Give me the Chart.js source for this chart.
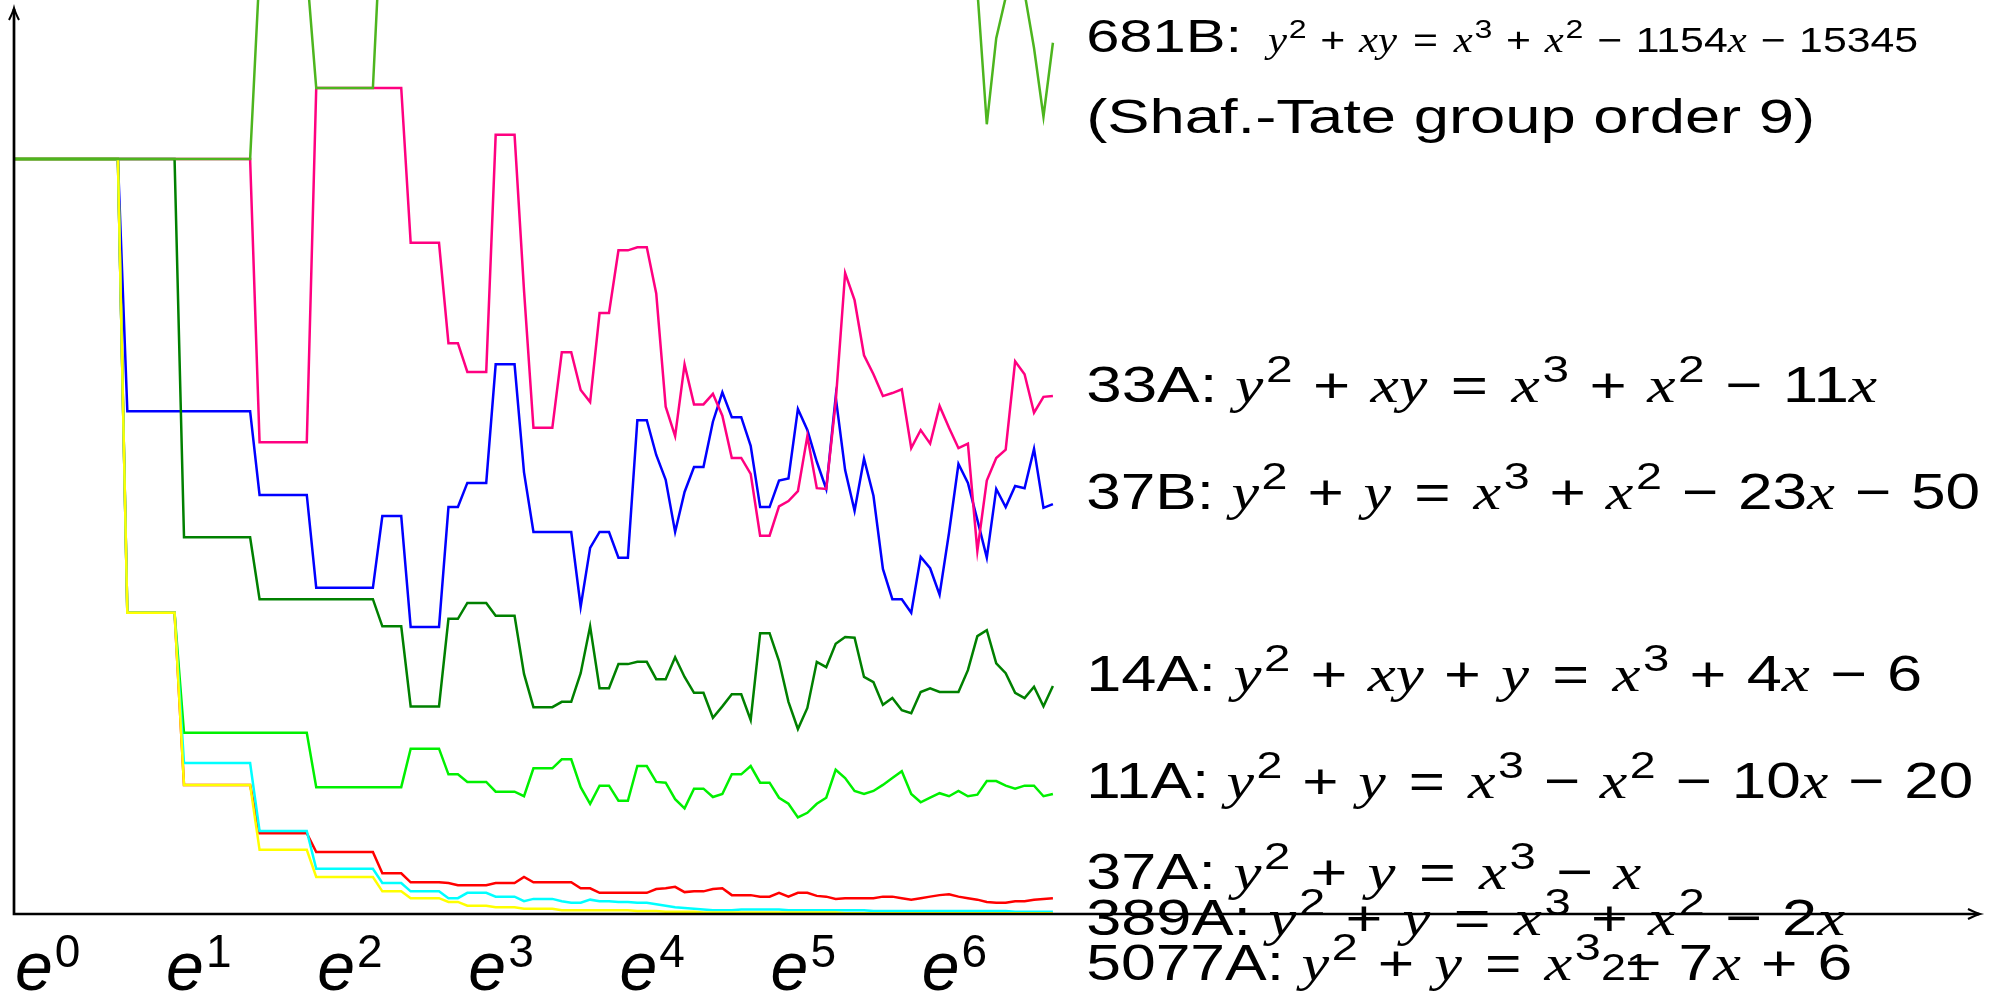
<!DOCTYPE html>
<html>
<head>
<meta charset="utf-8">
<script src="https://cdn.jsdelivr.net/npm/chart.js@4.4.0/dist/chart.umd.min.js"></script>
<style>
  html, body { margin: 0; padding: 0; background: #fff; }
  canvas { display: block; }
</style>
</head>
<body>
<canvas id="bsd" width="1996" height="994"></canvas>
<script>
// one sample every 1/16 of a unit of log x, from e^0 up to e^6.875
const STEP = 1 / 16;
const X_MAX = 13.01;     // the x axis runs on past the data to its arrow
const Y_MAX = 1.2106;    // top edge of the picture
const AXIS_TOP = 1.2;    // tip of the y arrow
const tickPowers = [0, 1, 2, 3, 4, 5, 6];

// values, 16 samples per line (one power of e)
const c681B = [
  1, 1, 1, 1, 1, 1, 1, 1, 1, 1, 1, 1, 1, 1, 1, 1,
  1, 1, 1, 1, 1, 1, 1, 1, 1, 1, 1.25, 1.25, 1.25, 1.25, 1.25, 1.25,
  1.094, 1.094, 1.094, 1.094, 1.094, 1.094, 1.094, 1.35, 1.35, 1.35, 1.42, 1.42, 1.42, 1.42, 1.55, 1.55,
  1.60, 1.60, 1.60, 1.72, 1.72, 1.72, 1.65, 1.58, 1.58, 1.58, 1.62, 1.62, 1.55, 1.50, 1.56, 1.56,
  1.60, 1.60, 1.66, 1.66, 1.58, 1.52, 1.48, 1.55, 1.50, 1.50, 1.45, 1.42, 1.40, 1.40, 1.38, 1.33,
  1.33, 1.36, 1.40, 1.45, 1.42, 1.38, 1.37, 1.44, 1.52, 1.48, 1.42, 1.39, 1.36, 1.35, 1.33, 1.30,
  1.28, 1.31, 1.34, 1.30, 1.27, 1.25, 1.224, 1.046, 1.160, 1.214, 1.30, 1.22, 1.147, 1.056, 1.154
];
const c33A = [
  1, 1, 1, 1, 1, 1, 1, 1, 1, 1, 1, 1, 1, 1, 1, 1,
  1, 1, 1, 1, 1, 1, 1, 1, 1, 1, 0.625, 0.625, 0.625, 0.625, 0.625, 0.625,
  1.094, 1.094, 1.094, 1.094, 1.094, 1.094, 1.094, 1.094, 1.094, 1.094, 0.889, 0.889, 0.889, 0.889, 0.756, 0.756,
  0.718, 0.718, 0.718, 1.032, 1.032, 1.032, 0.826, 0.644, 0.644, 0.644, 0.744, 0.744, 0.694, 0.678, 0.796, 0.796,
  0.879, 0.879, 0.883, 0.883, 0.822, 0.672, 0.633, 0.728, 0.675, 0.675, 0.689, 0.660, 0.604, 0.604, 0.583, 0.501,
  0.501, 0.540, 0.547, 0.560, 0.633, 0.564, 0.563, 0.678, 0.849, 0.813, 0.740, 0.715, 0.686, 0.690, 0.695, 0.617,
  0.641, 0.623, 0.673, 0.644, 0.617, 0.623, 0.481, 0.574, 0.604, 0.615, 0.732, 0.715, 0.664, 0.685, 0.686
];
const c37B = [
  1, 1, 1, 1, 1, 1, 1, 1, 1, 1, 1, 1, 0.666, 0.666, 0.666, 0.666,
  0.666, 0.666, 0.666, 0.666, 0.666, 0.666, 0.666, 0.666, 0.666, 0.666, 0.555, 0.555, 0.555, 0.555, 0.555, 0.555,
  0.432, 0.432, 0.432, 0.432, 0.432, 0.432, 0.432, 0.527, 0.527, 0.527, 0.380, 0.380, 0.380, 0.380, 0.539, 0.539,
  0.571, 0.571, 0.571, 0.728, 0.728, 0.728, 0.585, 0.506, 0.506, 0.506, 0.506, 0.506, 0.407, 0.485, 0.506, 0.506,
  0.472, 0.472, 0.654, 0.654, 0.608, 0.575, 0.506, 0.559, 0.592, 0.592, 0.652, 0.691, 0.658, 0.658, 0.620, 0.539,
  0.539, 0.574, 0.577, 0.669, 0.641, 0.599, 0.563, 0.685, 0.588, 0.534, 0.603, 0.554, 0.457, 0.417, 0.417, 0.399,
  0.473, 0.458, 0.423, 0.505, 0.596, 0.571, 0.522, 0.472, 0.563, 0.539, 0.567, 0.564, 0.616, 0.538, 0.543
];
const c14A = [
  1, 1, 1, 1, 1, 1, 1, 1, 1, 1, 1, 1, 1, 1, 1, 1,
  1, 1, 0.499, 0.499, 0.499, 0.499, 0.499, 0.499, 0.499, 0.499, 0.417, 0.417, 0.417, 0.417, 0.417, 0.417,
  0.417, 0.417, 0.417, 0.417, 0.417, 0.417, 0.417, 0.381, 0.381, 0.381, 0.275, 0.275, 0.275, 0.275, 0.391, 0.391,
  0.412, 0.412, 0.412, 0.395, 0.395, 0.395, 0.318, 0.274, 0.274, 0.274, 0.281, 0.281, 0.319, 0.381, 0.299, 0.299,
  0.331, 0.331, 0.334, 0.334, 0.311, 0.311, 0.340, 0.314, 0.293, 0.293, 0.260, 0.275, 0.291, 0.291, 0.257, 0.372,
  0.372, 0.335, 0.281, 0.245, 0.273, 0.334, 0.327, 0.358, 0.367, 0.366, 0.314, 0.307, 0.277, 0.286, 0.270, 0.266,
  0.294, 0.299, 0.294, 0.294, 0.294, 0.323, 0.368, 0.376, 0.332, 0.319, 0.293, 0.286, 0.301, 0.275, 0.302
];
const c11A = [
  1, 1, 1, 1, 1, 1, 1, 1, 1, 1, 1, 1, 0.399, 0.399, 0.399, 0.399,
  0.399, 0.399, 0.240, 0.240, 0.240, 0.240, 0.240, 0.240, 0.240, 0.240, 0.240, 0.240, 0.240, 0.240, 0.240, 0.240,
  0.168, 0.168, 0.168, 0.168, 0.168, 0.168, 0.168, 0.168, 0.168, 0.168, 0.219, 0.219, 0.219, 0.219, 0.185, 0.185,
  0.175, 0.175, 0.175, 0.162, 0.162, 0.162, 0.156, 0.193, 0.193, 0.193, 0.205, 0.205, 0.168, 0.146, 0.170, 0.170,
  0.150, 0.150, 0.196, 0.196, 0.175, 0.174, 0.152, 0.140, 0.166, 0.166, 0.155, 0.159, 0.185, 0.185, 0.196, 0.174,
  0.174, 0.154, 0.146, 0.128, 0.134, 0.146, 0.154, 0.191, 0.180, 0.163, 0.159, 0.163, 0.171, 0.180, 0.189, 0.159,
  0.148, 0.154, 0.160, 0.156, 0.163, 0.156, 0.158, 0.176, 0.176, 0.170, 0.166, 0.170, 0.170, 0.156, 0.159
];
const c37A = [
  1, 1, 1, 1, 1, 1, 1, 1, 1, 1, 1, 1, 0.399, 0.399, 0.399, 0.399,
  0.399, 0.399, 0.171, 0.171, 0.171, 0.171, 0.171, 0.171, 0.171, 0.171, 0.107, 0.107, 0.107, 0.107, 0.107, 0.107,
  0.082, 0.082, 0.082, 0.082, 0.082, 0.082, 0.082, 0.054, 0.054, 0.054, 0.042, 0.042, 0.042, 0.042, 0.041, 0.038,
  0.038, 0.038, 0.038, 0.041, 0.041, 0.041, 0.049, 0.042, 0.042, 0.042, 0.042, 0.042, 0.034, 0.034, 0.028, 0.028,
  0.028, 0.028, 0.028, 0.028, 0.033, 0.034, 0.036, 0.029, 0.030, 0.030, 0.033, 0.034, 0.025, 0.025, 0.025, 0.023,
  0.023, 0.028, 0.023, 0.028, 0.028, 0.024, 0.023, 0.020, 0.021, 0.021, 0.021, 0.021, 0.023, 0.023, 0.021, 0.019,
  0.021, 0.023, 0.025, 0.026, 0.023, 0.021, 0.019, 0.016, 0.015, 0.015, 0.017, 0.017, 0.019, 0.020, 0.021
];
const c389A = [
  1, 1, 1, 1, 1, 1, 1, 1, 1, 1, 1, 1, 0.399, 0.399, 0.399, 0.399,
  0.399, 0.399, 0.200, 0.200, 0.200, 0.200, 0.200, 0.200, 0.200, 0.200, 0.110, 0.110, 0.110, 0.110, 0.110, 0.110,
  0.060, 0.060, 0.060, 0.060, 0.060, 0.060, 0.060, 0.041, 0.041, 0.041, 0.030, 0.030, 0.030, 0.030, 0.021, 0.021,
  0.028, 0.028, 0.028, 0.023, 0.023, 0.023, 0.017, 0.020, 0.020, 0.020, 0.017, 0.015, 0.015, 0.019, 0.017, 0.017,
  0.016, 0.016, 0.015, 0.015, 0.013, 0.011, 0.009, 0.008, 0.007, 0.006, 0.005, 0.005, 0.005, 0.006, 0.006, 0.006,
  0.006, 0.006, 0.005, 0.005, 0.005, 0.005, 0.005, 0.005, 0.005, 0.005, 0.005, 0.004, 0.004, 0.004, 0.004, 0.004,
  0.004, 0.004, 0.004, 0.004, 0.004, 0.004, 0.004, 0.004, 0.004, 0.004, 0.003, 0.003, 0.003, 0.003, 0.003
];
const c5077A = [
  1, 1, 1, 1, 1, 1, 1, 1, 1, 1, 1, 1, 0.399, 0.399, 0.399, 0.399,
  0.399, 0.399, 0.171, 0.171, 0.171, 0.171, 0.171, 0.171, 0.171, 0.171, 0.085, 0.085, 0.085, 0.085, 0.085, 0.085,
  0.049, 0.049, 0.049, 0.049, 0.049, 0.049, 0.049, 0.030, 0.030, 0.030, 0.021, 0.021, 0.021, 0.021, 0.016, 0.016,
  0.011, 0.011, 0.011, 0.009, 0.009, 0.009, 0.007, 0.007, 0.007, 0.007, 0.005, 0.005, 0.005, 0.005, 0.005, 0.005,
  0.005, 0.005, 0.004, 0.004, 0.004, 0.003, 0.003, 0.003, 0.003, 0.002, 0.002, 0.002, 0.002, 0.002, 0.002, 0.002,
  0.002, 0.002, 0.002, 0.002, 0.002, 0.002, 0.002, 0.002, 0.001, 0.001, 0.001, 0.001, 0.001, 0.001, 0.001, 0.001,
  0.001, 0.001, 0.001, 0.001, 0.001, 0.001, 0.001, 0.001, 0.001, 0.001, 0.001, 0.001, 0.001, 0.001, 0.001
];

// first in the list is drawn on top
const curveNames = ['681B', '5077A', '389A', '37A', '11A', '14A', '33A', '37B'];
const curveValues = [c681B, c5077A, c389A, c37A, c11A, c14A, c33A, c37B];
const curveColors = ['#4db51e', '#ffff00', '#00ffff', '#ff0000', '#00f000', '#008000', '#ff0080', '#0000ff'];

// bits of the curve labels: T plain text, I math italic, S superscript, O operator
const T = t => ({ t });
const I = t => ({ t, it: true });
const S = t => ({ t, sup: true });
const O = t => ({ t, op: t === '=' ? 0.37 : 0.32 });

const labelText = [
  [T('681B:')],
  [I('y'), S('2'), O('+'), I('xy'), O('='), I('x'), S('3'), O('+'), I('x'), S('2'), O('−'), T('1154'), I('x'), O('−'), T('15345')],
  [T('(Shaf.-Tate group order 9)')],
  [T('33A: '), I('y'), S('2'), O('+'), I('xy'), O('='), I('x'), S('3'), O('+'), I('x'), S('2'), O('−'), T('11'), I('x')],
  [T('37B: '), I('y'), S('2'), O('+'), I('y'), O('='), I('x'), S('3'), O('+'), I('x'), S('2'), O('−'), T('23'), I('x'), O('−'), T('50')],
  [T('14A: '), I('y'), S('2'), O('+'), I('xy'), O('+'), I('y'), O('='), I('x'), S('3'), O('+'), T('4'), I('x'), O('−'), T('6')],
  [T('11A: '), I('y'), S('2'), O('+'), I('y'), O('='), I('x'), S('3'), O('−'), I('x'), S('2'), O('−'), T('10'), I('x'), O('−'), T('20')],
  [T('37A: '), I('y'), S('2'), O('+'), I('y'), O('='), I('x'), S('3'), O('−'), I('x')],
  [T('389A: '), I('y'), S('2'), O('+'), I('y'), O('='), I('x'), S('3'), O('+'), I('x'), S('2'), O('−'), T('2'), I('x')],
  [T('5077A: '), I('y'), S('2'), O('+'), I('y'), O('='), I('x'), S('3'), { t: '21', small: true }, { t: '−', back: 0.42 }, T(' 7'), I('x'), O('+'), T('6')]
];
// where each label sits (x in log units, baseline in y units) and how big it is
const labelLayout = [
  { x: 7.095, y: 1.142, size: 46, width: 156 },
  { x: 8.299, y: 1.142, size: 35, width: 650 },
  { x: 7.095, y: 1.034, size: 48, width: 729 },
  { x: 7.095, y: 0.678, size: 50, width: 791 },
  { x: 7.095, y: 0.536, size: 50, width: 894 },
  { x: 7.095, y: 0.295, size: 50, width: 836 },
  { x: 7.095, y: 0.154, size: 50, width: 887 },
  { x: 7.095, y: 0.033, size: 50, width: 555 },
  { x: 7.095, y: -0.028, size: 50, width: 759 },
  { x: 7.095, y: -0.087, size: 50, width: 766 }
];

function partFont(p, size) {
  const s = p.sup ? size * 0.75 : p.small ? size * 0.72 : size;
  return p.it ? 'italic ' + s + 'px "Liberation Serif"' : s + 'px "Liberation Sans"';
}

function partAdvance(ctx, p, size) {
  ctx.font = partFont(p, size);
  let w = ctx.measureText(p.t).width;
  if (p.op) w += 2 * p.op * size;
  if (p.sup) w += 0.04 * size;
  return w;
}

function drawRich(ctx, parts, left, base, size, width) {
  let natural = 0;
  parts.forEach(p => { natural += partAdvance(ctx, p, size) - (p.back || 0) * size; });
  ctx.save();
  ctx.translate(left, base);
  ctx.scale(width / natural, 1);
  let cx = 0;
  parts.forEach(p => {
    cx -= (p.back || 0) * size;
    ctx.font = partFont(p, size);
    const dy = p.sup ? -0.4 * size : 0;
    const dx = (p.op ? p.op * size : 0) + (p.sup ? 0.04 * size : 0);
    ctx.fillText(p.t, cx + dx, dy);
    cx += partAdvance(ctx, p, size);
  });
  ctx.restore();
}

const axesAndText = {
  id: 'axesAndText',
  afterDatasetsDraw(chart) {
    const { ctx, scales: { x, y } } = chart;
    const x0 = x.getPixelForValue(0);
    const y0 = y.getPixelForValue(0);
    const xEnd = x.getPixelForValue(X_MAX);
    const yEnd = y.getPixelForValue(AXIS_TOP);

    ctx.save();
    ctx.strokeStyle = '#000';
    ctx.lineWidth = 2.7;
    ctx.beginPath();
    ctx.moveTo(x0, y0); ctx.lineTo(xEnd - 1, y0);
    ctx.moveTo(x0, y0 + 1.3); ctx.lineTo(x0, yEnd + 1);
    ctx.stroke();
    // arrow heads
    ctx.lineWidth = 2;
    ctx.beginPath();
    ctx.moveTo(xEnd - 12, y0 - 5); ctx.quadraticCurveTo(xEnd - 4, y0 - 1, xEnd, y0);
    ctx.quadraticCurveTo(xEnd - 4, y0 + 1, xEnd - 12, y0 + 5);
    ctx.moveTo(x0 - 5, yEnd + 12); ctx.quadraticCurveTo(x0 - 1, yEnd + 4, x0, yEnd);
    ctx.quadraticCurveTo(x0 + 1, yEnd + 4, x0 + 5, yEnd + 12);
    ctx.stroke();

    // tick labels e^k, left edge on the tick
    ctx.fillStyle = '#000';
    ctx.textBaseline = 'alphabetic';
    tickPowers.forEach(k => {
      const px = x.getPixelForValue(k) + 1;
      ctx.font = 'italic 68px "Liberation Sans"';
      ctx.fillText('e', px, y0 + 76);
      const ew = ctx.measureText('e').width;
      ctx.font = '46px "Liberation Sans"';
      ctx.fillText(String(k), px + ew + 2, y0 + 53);
    });

    // curve labels
    labelText.forEach((parts, i) => {
      const L = labelLayout[i];
      drawRich(ctx, parts, x.getPixelForValue(L.x), y.getPixelForValue(L.y), L.size, L.width);
    });
    ctx.restore();
  }
};

new Chart(document.getElementById('bsd'), {
  type: 'line',
  data: {
    datasets: curveNames.map((name, i) => ({
      label: name,
      data: curveValues[i].map((v, k) => ({ x: k * STEP, y: v })),
      borderColor: curveColors[i],
      borderWidth: 2.5,
      pointRadius: 0,
      tension: 0,
      fill: false
    }))
  },
  options: {
    responsive: false,
    animation: false,
    devicePixelRatio: 1,
    layout: { padding: { left: 14, right: 16, top: 0, bottom: 80 } },
    scales: {
      x: { type: 'linear', min: 0, max: X_MAX, display: false },
      y: { min: 0, max: Y_MAX, display: false }
    },
    plugins: { legend: { display: false }, tooltip: { enabled: false } }
  },
  plugins: [axesAndText]
});
</script>
</body>
</html>
